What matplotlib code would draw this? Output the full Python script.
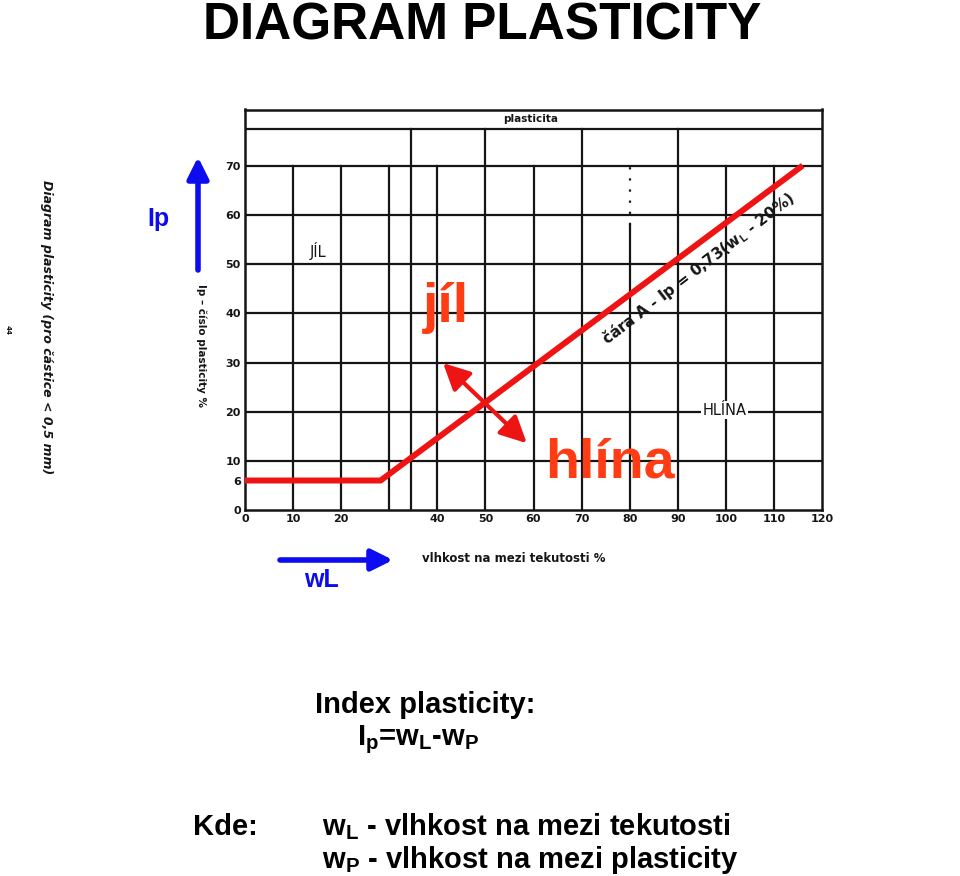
import matplotlib
matplotlib.use("Agg")
import matplotlib.pyplot as plt

plt.rcParams['font.family'] = ['Liberation Sans', 'DejaVu Sans']
plt.rcParams['mathtext.fontset'] = 'custom'
plt.rcParams['mathtext.rm'] = 'Liberation Sans:bold'
plt.rcParams['mathtext.it'] = 'Liberation Sans:bold'
plt.rcParams['mathtext.bf'] = 'Liberation Sans:bold'

# A-line drawn in red: Ip = 0.73 (wL - 20), flat at Ip = 6 below wL ~ 28
wl_line = [0, 28.2, 116]
ip_line = [6, 6, 70.1]

x_ticks = [0, 10, 20, 40, 50, 60, 70, 80, 90, 100, 110, 120]
y_ticks = [0, 6, 10, 20, 30, 40, 50, 60, 70]

# grid of the scanned diagram
grid_x = [10, 20, 30, 40, 60, 100, 110]       # stop at Ip = 70
tall_x = [34.5, 50, 70, 90]                    # go up to the header row
grid_y = [10, 20, 30, 40, 50, 60, 70, 77.5]
top_y = 81.5

# red double arrow across the A-line (jíl <-> hlína)
arrow_jil = (41.2, 29.9)
arrow_hlina = (58.6, 13.6)

ink = '#151515'
red = '#ee1414'
orange = '#ff3c14'
blue = '#0c0cef'

W, H = 960, 876
fig = plt.figure(figsize=(9.6, 8.76), dpi=100)
ax = fig.add_axes([245 / W, 1 - 510 / H, (822 - 245) / W, 400.5 / H])
ax.set_xlim(0, 120)
ax.set_ylim(0, top_y)

for s in ax.spines.values():
    s.set_linewidth(1.8)
    s.set_color(ink)

for x in grid_x:
    ax.plot([x, x], [0, 70], color=ink, lw=1.6, zorder=1)
for x in tall_x:
    ax.plot([x, x], [0, 77.5], color=ink, lw=1.6, zorder=1)
for y in grid_y:
    ax.plot([0, 120], [y, y], color=ink, lw=1.6, zorder=1)
# the 80 % line is broken near the top in the scan
ax.plot([80, 80], [0, 58], color=ink, lw=1.6, zorder=1)
ax.plot([80, 80], [58, 70], color=ink, lw=1.6, ls=(0, (1, 4)), zorder=1)

ax.set_xticks(x_ticks)
ax.set_yticks(y_ticks)
ax.set_xticklabels([str(v) for v in x_ticks], fontfamily='DejaVu Sans',
                   fontweight='bold', fontsize=8, color=ink)
ax.set_yticklabels([str(v) for v in y_ticks], fontfamily='DejaVu Sans',
                   fontweight='bold', fontsize=8, color=ink)
ax.tick_params(length=0, pad=3)

# labels printed in the scanned diagram
ax.text(59.5, 79.5, 'plasticita', fontfamily='DejaVu Sans', fontweight='bold',
        fontsize=7.5, color=ink, ha='center', va='center')
ax.text(15.2, 52.7, 'JÍL', fontfamily='DejaVu Sans', fontsize=10.5,
        color=ink, ha='center', va='center')
ax.text(99.8, 20.3, 'HLÍNA', fontfamily='DejaVu Sans', fontsize=10.5,
        color=ink, ha='center', va='center',
        bbox=dict(facecolor='white', edgecolor='none', pad=1))
ax.text(94.2, 49.1, 'čára A - Ip = 0,73(w$_\\mathrm{L}$ - 20%)',
        fontfamily='DejaVu Sans', fontweight='bold', fontsize=11, color=ink,
        rotation=37.5, rotation_mode='anchor', ha='center', va='center')

# red overlay
ax.plot(wl_line, ip_line, color=red, lw=4.3, solid_joinstyle='miter',
        solid_capstyle='butt', zorder=5)
ax.annotate('', xy=arrow_hlina, xytext=arrow_jil,
            arrowprops=dict(arrowstyle='<|-|>,head_length=0.8,head_width=0.4',
                            color=red, lw=3, mutation_scale=20,
                            shrinkA=0, shrinkB=0), zorder=6)
ax.text(41.8, 38.3, 'jíl', fontsize=40, fontweight='bold', color=orange,
        ha='center', va='baseline', zorder=6)
ax.text(75.8, 6.7, 'hlína', fontsize=40, fontweight='bold', color=orange,
        ha='center', va='baseline', zorder=6)

# everything around the diagram, in pixel coordinates of the page
ov = fig.add_axes([0, 0, 1, 1])
ov.set_xlim(0, W)
ov.set_ylim(H, 0)
ov.axis('off')

ov.text(482, 40, 'DIAGRAM PLASTICITY', fontsize=37, fontweight='bold',
        color='black', ha='center', va='baseline')

ov.text(514, 558, 'vlhkost na mezi tekutosti %', fontfamily='DejaVu Sans',
        fontweight='bold', fontsize=8.5, color=ink, ha='center', va='center')
ov.text(201, 346, 'Ip – číslo plasticity %', fontfamily='DejaVu Sans',
        fontweight='bold', fontsize=7.5, color=ink, rotation=-90,
        ha='center', va='center')
ov.text(46, 327, 'Diagram plasticity (pro částice < 0,5 mm)',
        fontfamily='DejaVu Sans', fontstyle='italic', fontweight='bold',
        fontsize=9, color=ink, rotation=-90, ha='center', va='center')
ov.text(8, 330, '44', fontfamily='DejaVu Sans', fontweight='bold',
        fontsize=5, color=ink, rotation=-90, ha='center', va='center')

# blue axis arrows
ov.annotate('', xy=(198, 157), xytext=(198, 270),
            arrowprops=dict(arrowstyle='-|>,head_length=0.8,head_width=0.4',
                            color=blue, lw=4, mutation_scale=16,
                            shrinkA=0, shrinkB=0))
ov.annotate('', xy=(393, 560), xytext=(280, 560),
            arrowprops=dict(arrowstyle='-|>,head_length=0.8,head_width=0.4',
                            color=blue, lw=4, mutation_scale=16,
                            shrinkA=0, shrinkB=0))
ov.text(158, 226, 'Ip', fontsize=18, fontweight='bold', color=blue,
        ha='center', va='baseline')
ov.text(321, 587, 'wL', fontsize=18, fontweight='bold', color=blue,
        ha='center', va='baseline')

# explanation below
ov.text(315, 713, 'Index plasticity:', fontsize=21, fontweight='bold',
        color='black', ha='left', va='baseline')
ov.text(357, 745, 'I$_\\mathrm{p}$=w$_\\mathrm{L}$-w$_\\mathrm{P}$',
        fontsize=21, fontweight='bold', color='black', ha='left', va='baseline')
ov.text(193, 835, 'Kde:', fontsize=21, fontweight='bold', color='black',
        ha='left', va='baseline')
ov.text(322, 835, 'w$_\\mathrm{L}$ - vlhkost na mezi tekutosti', fontsize=21,
        fontweight='bold', color='black', ha='left', va='baseline')
ov.text(322, 868, 'w$_\\mathrm{P}$ - vlhkost na mezi plasticity', fontsize=21,
        fontweight='bold', color='black', ha='left', va='baseline')

fig.savefig('out.png', dpi=100)
